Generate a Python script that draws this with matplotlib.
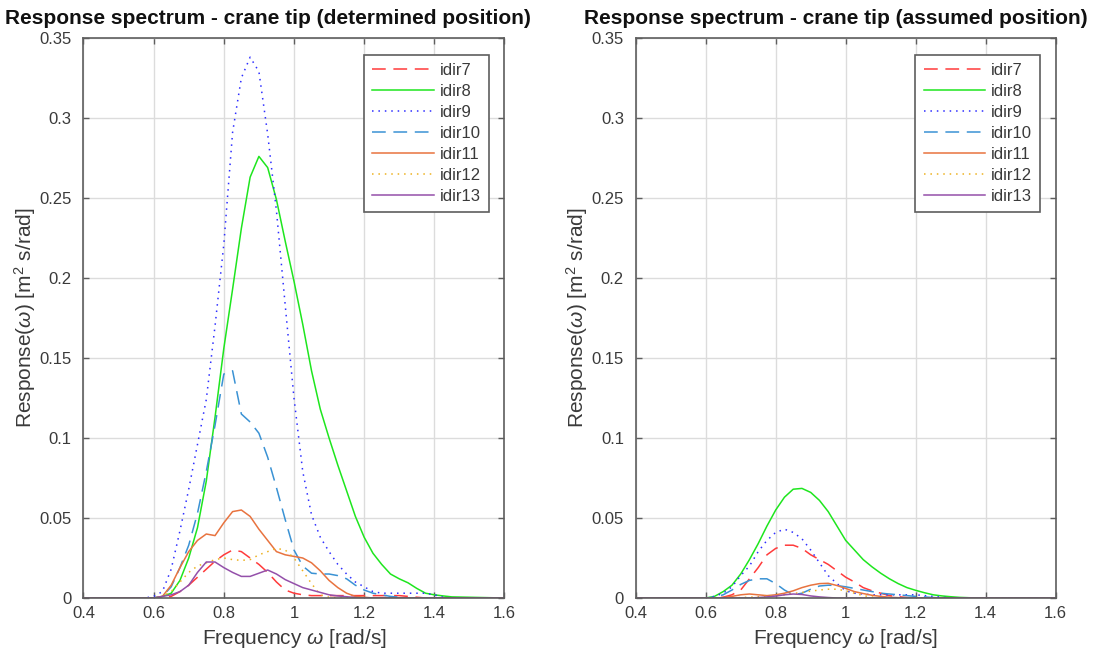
import matplotlib
matplotlib.use("Agg")
import matplotlib.pyplot as plt

plt.rcParams["font.family"] = ["Liberation Sans", "DejaVu Sans"]
plt.rcParams["mathtext.fontset"] = "custom"
plt.rcParams["mathtext.rm"] = "Liberation Sans"
plt.rcParams["mathtext.it"] = "Liberation Sans:italic"

# Frequency grid [rad/s]
freq = [0.400, 0.575, 0.600, 0.625, 0.650, 0.675, 0.700, 0.725, 0.750, 0.775,
        0.800, 0.825, 0.850, 0.875, 0.900, 0.925, 0.950, 0.975, 1.000, 1.025,
        1.050, 1.075, 1.100, 1.125, 1.150, 1.175, 1.200, 1.225, 1.250, 1.275,
        1.300, 1.325, 1.350, 1.375, 1.400, 1.425, 1.450, 1.600]

labels = ["idir7", "idir8", "idir9", "idir10", "idir11", "idir12", "idir13"]

# Crane tip response, determined position
det_idir7 = [0, 0, 0, 0, 0.001, 0.004, 0.008, 0.013, 0.018, 0.023,
             0.027, 0.030, 0.029, 0.025, 0.021, 0.016, 0.010, 0.005, 0.003, 0.002,
             0.0015, 0.0015, 0.0015, 0.0015, 0.0015, 0.0015, 0.0015, 0.0015, 0.0015, 0.0015,
             0.0015, 0.001, 0.0005, 0, 0, 0, 0, 0]
det_idir8 = [0, 0, 0, 0.001, 0.003, 0.011, 0.025, 0.044, 0.073, 0.113,
             0.156, 0.193, 0.231, 0.263, 0.276, 0.269, 0.249, 0.223, 0.198, 0.171,
             0.142, 0.118, 0.100, 0.083, 0.067, 0.051, 0.038, 0.028, 0.021, 0.015,
             0.012, 0.0095, 0.006, 0.003, 0.002, 0.0013, 0.0007, 0]
det_idir9 = [0, 0, 0.001, 0.004, 0.018, 0.042, 0.068, 0.096, 0.124, 0.170,
             0.221, 0.291, 0.325, 0.338, 0.329, 0.290, 0.242, 0.183, 0.125, 0.079,
             0.052, 0.038, 0.029, 0.021, 0.015, 0.010, 0.007, 0.004, 0.003, 0.003,
             0.003, 0.003, 0.003, 0.003, 0.002, 0.0005, 0, 0]
det_idir10 = [0, 0, 0, 0.001, 0.007, 0.019, 0.033, 0.053, 0.079, 0.108,
              0.140, 0.142, 0.115, 0.110, 0.103, 0.088, 0.069, 0.049, 0.030, 0.020,
              0.0155, 0.015, 0.015, 0.014, 0.012, 0.008, 0.005, 0.003, 0.002, 0.001,
              0.0005, 0, 0, 0, 0, 0, 0, 0]
det_idir11 = [0, 0, 0, 0.001, 0.008, 0.019, 0.029, 0.036, 0.040, 0.039,
              0.047, 0.054, 0.055, 0.051, 0.043, 0.036, 0.029, 0.027, 0.026, 0.025,
              0.022, 0.017, 0.011, 0.0065, 0.003, 0.001, 0.0005, 0, 0, 0,
              0, 0, 0, 0, 0, 0, 0, 0]
det_idir12 = [0, 0, 0, 0.001, 0.004, 0.010, 0.016, 0.020, 0.022, 0.024,
              0.025, 0.024, 0.0235, 0.024, 0.027, 0.029, 0.031, 0.030, 0.025, 0.017,
              0.009, 0.002, 0.0005, 0, 0, 0, 0, 0, 0, 0,
              0, 0, 0, 0, 0, 0, 0, 0]
det_idir13 = [0, 0, 0, 0.001, 0.002, 0.004, 0.008, 0.016, 0.0225, 0.0225,
              0.019, 0.016, 0.0135, 0.0135, 0.0155, 0.0175, 0.015, 0.0115, 0.009, 0.0065,
              0.005, 0.0035, 0.002, 0.0013, 0.0008, 0.0003, 0, 0, 0, 0,
              0, 0, 0, 0, 0, 0, 0, 0]

# Crane tip response, assumed position
asm_idir7 = [0, 0, 0, 0, 0.0005, 0.002, 0.005, 0.012, 0.019, 0.027,
             0.031, 0.033, 0.033, 0.031, 0.027, 0.024, 0.021, 0.017, 0.013, 0.010,
             0.0065, 0.0045, 0.003, 0.0015, 0.0008, 0.0003, 0, 0, 0, 0,
             0, 0, 0, 0, 0, 0, 0, 0]
asm_idir8 = [0, 0, 0, 0.001, 0.004, 0.008, 0.015, 0.024, 0.034, 0.045,
             0.055, 0.063, 0.068, 0.0685, 0.066, 0.061, 0.054, 0.045, 0.036, 0.030,
             0.024, 0.0195, 0.0155, 0.012, 0.009, 0.0065, 0.0048, 0.0033, 0.002, 0.0013,
             0.0008, 0.0004, 0.0002, 0, 0, 0, 0, 0]
asm_idir9 = [0, 0, 0, 0.001, 0.003, 0.007, 0.014, 0.020, 0.029, 0.036,
             0.041, 0.043, 0.041, 0.037, 0.030, 0.022, 0.014, 0.009, 0.0045, 0.003,
             0.0025, 0.002, 0.002, 0.002, 0.002, 0.002, 0.002, 0.0015, 0.001, 0.0005,
             0, 0, 0, 0, 0, 0, 0, 0]
asm_idir10 = [0, 0, 0, 0.0005, 0.002, 0.005, 0.0085, 0.011, 0.012, 0.012,
              0.009, 0.005, 0.002, 0.003, 0.0055, 0.0075, 0.008, 0.0078, 0.007, 0.006,
              0.005, 0.004, 0.003, 0.0025, 0.002, 0.0015, 0.001, 0.0007, 0.0003, 0,
              0, 0, 0, 0, 0, 0, 0, 0]
asm_idir11 = [0, 0, 0, 0, 0.0003, 0.001, 0.002, 0.0025, 0.002, 0.0015,
              0.002, 0.003, 0.0045, 0.0065, 0.008, 0.009, 0.0092, 0.0078, 0.006, 0.004,
              0.0028, 0.0017, 0.001, 0.0005, 0.0002, 0, 0, 0, 0, 0,
              0, 0, 0, 0, 0, 0, 0, 0]
asm_idir12 = [0, 0, 0, 0, 0, 0, 0.0003, 0.0005, 0.0008, 0.0011,
              0.0015, 0.002, 0.0028, 0.0035, 0.0043, 0.005, 0.0055, 0.0055, 0.0045, 0.003,
              0.0015, 0.0006, 0.0002, 0, 0, 0, 0, 0, 0, 0,
              0, 0, 0, 0, 0, 0, 0, 0]
asm_idir13 = [0, 0, 0, 0, 0, 0, 0, 0, 0.0003, 0.0007,
              0.0012, 0.002, 0.0025, 0.0022, 0.0013, 0.0007, 0.0003, 0, 0, 0,
              0, 0, 0, 0, 0, 0, 0, 0, 0, 0,
              0, 0, 0, 0, 0, 0, 0, 0]

determined = [det_idir7, det_idir8, det_idir9, det_idir10, det_idir11, det_idir12, det_idir13]
assumed = [asm_idir7, asm_idir8, asm_idir9, asm_idir10, asm_idir11, asm_idir12, asm_idir13]

xticks = [0.4, 0.6, 0.8, 1.0, 1.2, 1.4, 1.6]
xticklabels = ["0.4", "0.6", "0.8", "1", "1.2", "1.4", "1.6"]
yticks = [0, 0.05, 0.1, 0.15, 0.2, 0.25, 0.3, 0.35]
yticklabels = ["0", "0.05", "0.1", "0.15", "0.2", "0.25", "0.3", "0.35"]

titles = ["Response spectrum - crane tip (determined position)",
          "Response spectrum - crane tip (assumed position)"]

colors = ["#FF3B3B", "#1EE61E", "#2E2EFF", "#3A92D4", "#E8733F", "#EDB120", "#9450AA"]
styles = [(0, (9, 5)), "-", (0, (1, 3.2)), (0, (9, 5)), "-", (0, (1, 3.2)), "-"]

fig = plt.figure(figsize=(11.1, 6.56), dpi=100)
ax_pos = [[0.0752, 0.0884, 0.3793, 0.8537], [0.5727, 0.0884, 0.3784, 0.8537]]
title_x = [268 / 1110, 836 / 1110]

spine_col = "#5E5E5E"
text_col = "#3A3A3A"

for k, data in enumerate([determined, assumed]):
    ax = fig.add_axes(ax_pos[k])
    for series, lab, col, ls in zip(data, labels, colors, styles):
        ax.plot(freq, series, color=col, linestyle=ls, linewidth=1.1, label=lab)
    ax.set_xlim(0.4, 1.6)
    ax.set_ylim(0, 0.35)
    ax.set_xticks(xticks)
    ax.set_xticklabels(xticklabels)
    ax.set_yticks(yticks)
    ax.set_yticklabels(yticklabels)
    ax.grid(True, color="#DCDCDC", linewidth=1.0)
    ax.set_axisbelow(True)
    ax.tick_params(direction="in", length=4, width=1.0, color=spine_col,
                   labelsize=12, labelcolor=text_col, top=True, right=True)
    ax.tick_params(axis="x", pad=6)
    ax.tick_params(axis="y", pad=8.5)
    for sp in ax.spines.values():
        sp.set_color(spine_col)
        sp.set_linewidth(1.2)
    ax.set_xlabel(r"Frequency $\omega$ [rad/s]", fontsize=15, color=text_col, labelpad=4)
    ax.set_ylabel(r"Response($\omega$) [m$^2$ s/rad]", fontsize=15, color=text_col, labelpad=1)
    leg = ax.legend(loc="upper right", bbox_to_anchor=(0.963, 0.970), borderaxespad=0,
                    fontsize=12, handlelength=3.7, handletextpad=0.33, labelspacing=0.36,
                    borderpad=0.5, fancybox=False, framealpha=1.0)
    leg.get_frame().set_edgecolor(spine_col)
    leg.get_frame().set_linewidth(1.2)
    for t in leg.get_texts():
        t.set_color(text_col)
    fig.text(title_x[k], 1 - 18 / 656, titles[k], ha="center", va="center",
             fontsize=15, fontweight="bold", color="#111111")

fig.savefig("out.png", dpi=100)
